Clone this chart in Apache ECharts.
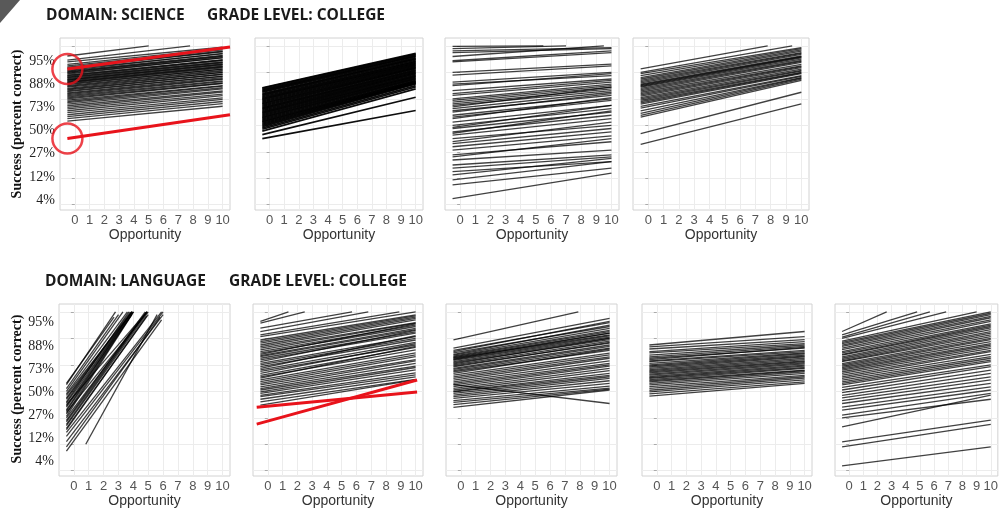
<!DOCTYPE html>
<html><head><meta charset="utf-8">
<script src="https://cdn.jsdelivr.net/npm/echarts@6/dist/echarts.min.js"></script>
<style>html,body{margin:0;padding:0;background:#fff}#c{width:1001px;height:512px}</style>
</head><body><div id="c"></div>
<script>
// ---------- tick values / labels ----------
const xTicks = [0,1,2,3,4,5,6,7,8,9,10];
const yTickValues = [-3,-2,-1,0,1,2,3];           // logit scale
const yTickLabels = ['4%','12%','27%','50%','73%','88%','95%'];
const rowTitles = [['DOMAIN: SCIENCE','GRADE LEVEL: COLLEGE'],['DOMAIN: LANGUAGE','GRADE LEVEL: COLLEGE']];
const xAxisName = 'Opportunity';
const yAxisName = 'Success (percent correct)';

// Each line: [logit at start, logit at end, (opportunity at end), (opportunity at start)]
const X_START = -0.5, X_END = 10;

const sciencePanel1 = [
 [2.62,3,5.0],[2.46,3,7.8],[2.4,2.95],[2.3,2.9],
 [2.25,2.85],[2.2,2.8],[2.16,2.78],[2.12,2.7],[2.08,2.72],[2.05,2.64],[2.02,2.62],[2.0,2.6],[1.97,2.55],[1.94,2.56],
 [1.9,2.48],[1.88,2.46],[1.85,2.45],[1.82,2.4],[1.8,2.38],[1.77,2.36],[1.74,2.32],[1.72,2.3],[1.7,2.28],[1.67,2.24],
 [1.64,2.22],[1.62,2.2],[1.6,2.17],[1.57,2.12],[1.54,2.12],[1.5,2.08],[1.47,2.05],[1.44,2.0],[1.4,2.0],[1.37,1.94],
 [1.34,1.92],[1.3,1.86],[1.27,1.85],[1.23,1.8],[1.2,1.76],[1.16,1.74],[1.12,1.68],[1.08,1.65],[1.04,1.6],[1.0,1.58],
 [0.95,1.5],[0.9,1.48],[0.86,1.42],[0.8,1.38],[0.74,1.3],[0.68,1.26],[0.62,1.18],[0.55,1.12],[0.48,1.04],[0.4,0.98],
 [0.33,0.9],[0.25,0.82],[0.16,0.72]
];
const sciencePanel2 = [
 [1.42,2.72],[1.4,2.69],[1.36,2.65],[1.32,2.62],[1.28,2.6],[1.25,2.56],[1.2,2.52],[1.16,2.5],[1.12,2.46],[1.08,2.42],
 [1.04,2.4],[1.0,2.36],[0.96,2.33],[0.92,2.3],[0.88,2.27],[0.84,2.24],[0.8,2.2],[0.76,2.17],[0.72,2.14],[0.68,2.1],
 [0.64,2.07],[0.6,2.04],[0.56,2.0],[0.52,1.97],[0.48,1.94],[0.44,1.9],[0.4,1.87],[0.36,1.84],[0.32,1.8],[0.28,1.77],
 [0.24,1.74],[0.2,1.7],[0.16,1.67],[0.12,1.64],[0.08,1.62],[0.04,1.6],[0.0,1.58],[-0.05,1.56],[-0.1,1.5],[-0.15,1.45],
 [-0.22,1.38],[-0.35,1.06],[-0.5,0.56]
];
const sciencePanel3 = [
 [2.98,3,5.5],[2.9,3,7],[2.81,2.94],[2.75,2.9],[2.6,3,9.5],[2.44,2.81],[2.4,2.75],[2.0,2.31],[1.9,2.25],[1.63,2.0],
 [1.56,1.88],[1.5,1.95],[1.31,1.75],[1.2,1.7],[1.13,1.63],[1.0,1.56],[0.94,1.5],[0.88,1.44],[0.81,1.38],[0.75,1.31],
 [0.7,1.44],[0.63,1.25],[0.55,1.13],[0.5,1.2],[0.38,1.0],[0.31,0.94],[0.25,1.05],[0.12,0.75],[0.0,0.63],[-0.08,0.75],
 [-0.12,0.5],[-0.25,0.38],[-0.3,0.55],[-0.37,0.25],[-0.5,0.0],[-0.62,0.12],[-0.69,-0.12],[-0.81,-0.25],[-0.94,-0.4],
 [-1.12,-0.62],[-1.19,-0.5],[-1.31,-0.94],[-1.5,-1.12],[-1.62,-1.19],[-1.75,-1.37],[-1.87,-1.25],[-2.06,-1.37],
 [-2.25,-1.62],[-2.77,-1.81]
];
const sciencePanel4 = [
 [2.13,3,7.8],[2.0,3,9.4],[1.95,2.94],[1.88,2.9],[1.8,2.85],[1.75,2.8],[1.7,2.75],[1.65,2.72],[1.6,2.68],[1.56,2.62],
 [1.53,2.6],[1.5,2.58],[1.47,2.55],[1.44,2.5],[1.4,2.45],[1.35,2.42],[1.3,2.38],[1.25,2.3],[1.2,2.25],[1.15,2.22],
 [1.1,2.18],[1.05,2.12],[1.0,2.08],[0.95,2.05],[0.9,2.0],[0.85,1.98],[0.8,1.95],[0.72,1.88],[0.65,1.85],[0.55,1.8],
 [0.45,1.78],[0.38,1.75],[0.31,1.7],[-0.31,1.25],[-0.72,0.81]
];
const languagePanel1 = [
 [0.3,2.8,2.7],[0.25,3,2.8],[0.1,2.9,3.0],[0.0,3,3.3],[-0.1,3,3.6],[-0.15,3,3.9],[-0.25,3,3.8],[-0.3,3,3.9],
 [-0.4,3,3.7],[-0.45,3,3.9],[-0.55,3,3.9],[-0.6,3,4.0],[-0.7,3,3.9],[-0.75,3,4.0],[-0.85,3,4.0],[-0.95,2.9,3.9],
 [-1.0,3,4.9],[-1.1,3,4.8],[-1.15,3,4.9],[-0.5,3,4.9],[-0.8,3,4.95],[-1.25,3,4.9],[-1.3,3,5.0],[-1.4,2.9,5.0],
 [-1.45,2.85,4.9],[-1.55,3,5.9],[-1.7,3,6.0],[-1.9,2.9,6.0],[-2.1,2.8,5.8],[-2.26,2.7,5.9],[-2.0,2.9,5.6,0.8]
];
const languagePanel2 = [
 [2.64,3,1.4],[2.58,3,2.5],[2.39,3,5.7],[2.26,3,6.8],[2.13,3,8.9],[2.07,3,10],
 [1.94,2.89],[1.88,2.85],[1.82,2.8],[1.75,2.76],[1.69,2.7],[1.63,2.6],[1.57,2.58],[1.5,2.5],[1.44,2.45],[1.4,2.55],
 [1.35,2.38],[1.31,2.33],[1.25,2.25],[1.19,2.2],[1.12,2.3],[1.06,2.07],[1.0,2.0],[0.93,1.94],[0.87,2.1],[0.81,1.85],
 [0.75,1.75],[0.68,1.8],[0.6,1.66],[0.55,1.57],[0.5,1.7],[0.43,1.45],[0.37,1.38],[0.3,1.31],[0.24,1.2],[0.17,1.15],
 [0.1,1.06],[0.05,0.95],[-0.02,0.9],[-0.08,0.81],[-0.15,0.7],[-0.2,0.62],[-0.3,0.55],[-0.4,0.45],[-0.52,0.43]
];
const languagePanel3 = [
 [1.94,3,7.9],
 [1.63,2.76],[1.55,2.6],[1.5,2.64],[1.45,2.45],[1.4,2.5],[1.37,2.38],[1.33,2.3],[1.3,2.26],[1.27,2.2],[1.25,2.13],
 [1.22,2.2],[1.2,2.1],[1.17,2.05],[1.12,2.01],[1.08,1.95],[1.04,2.0],[1.0,1.9],[0.96,1.82],[0.92,1.85],[0.87,1.75],
 [0.83,1.7],[0.78,1.63],[0.74,1.55],[0.68,1.6],[0.61,1.44],[0.55,1.38],[0.49,1.3],[0.42,1.25],[0.36,1.15],[0.3,1.06],
 [0.24,1.0],[0.18,0.95],[0.11,0.87],[0.05,0.78],[0.0,0.68],[-0.02,0.6],[-0.08,0.55],[-0.14,0.49],[-0.2,0.4],
 [-0.27,0.3],[-0.35,0.2],[-0.42,0.12],[-0.5,0.08],[-0.61,0.05],[0.25,-0.46]
];
const languagePanel4 = [
 [1.75,2.26],[1.68,2.07],[1.6,1.95],[1.5,1.88],[1.45,1.8],[1.37,1.75],[1.3,1.7],[1.25,1.63],[1.2,1.66],[1.15,1.55],
 [1.12,1.5],[1.06,1.45],[1.0,1.42],[0.96,1.37],[0.92,1.33],[0.87,1.3],[0.82,1.25],[0.78,1.2],[0.74,1.15],[0.7,1.12],
 [0.65,1.08],[0.61,1.04],[0.56,0.99],[0.52,0.95],[0.49,0.9],[0.44,0.87],[0.4,0.8],[0.36,0.78],[0.3,0.74],[0.24,0.68],
 [0.18,0.6],[0.11,0.55],[0.04,0.5],[-0.02,0.43],[-0.1,0.36],[-0.18,0.3]
];
const languagePanel5 = [
 [2.26,3,2.65],[2.13,3,4.8],[2.05,3,5.7],[2.0,3,6.85],[1.9,3,9.0],[1.85,3,10],[1.8,2.95],[1.75,2.9],[1.7,2.83],
 [1.63,2.78],[1.58,2.7],[1.5,2.64],[1.45,2.55],[1.4,2.5],[1.37,2.45],[1.3,2.4],[1.25,2.33],[1.2,2.26],[1.15,2.2],
 [1.12,2.13],[1.05,2.07],[1.0,2.0],[0.95,1.95],[0.9,1.88],[0.85,1.8],[0.8,1.75],[0.74,1.69],[0.68,1.62],[0.61,1.55],
 [0.55,1.5],[0.49,1.4],[0.42,1.31],[0.36,1.25],[0.3,1.18],[0.24,1.12],[0.15,1.0],[0.05,0.93],[-0.05,0.8],[-0.15,0.68],
 [-0.25,0.55],[-0.35,0.43],[-0.46,0.3],[-0.6,0.17],[-0.71,0.05],[-0.9,-0.08],[-1.0,-0.3],[-1.34,-0.14],
 [-1.91,-1.09],[-2.1,-1.25],[-2.82,-2.1]
];
// red annotations: [x0, y0, x1, y1]
const redLinesScience = [[-0.5,2.13,10.5,2.96],[-0.5,-0.5,10.5,0.4]];
const redCirclesScience = [[-0.5,2.13],[-0.5,-0.5]];
const redLinesLanguage = [[-0.75,-0.6,10.1,-0.03],[-0.75,-1.24,10.1,0.43]];

const panels = [sciencePanel1, sciencePanel2, sciencePanel3, sciencePanel4,
  languagePanel1, languagePanel2, languagePanel3, languagePanel4, languagePanel5];

// ---------- layout (pixels) ----------
const layout = [
 {left:60, top:38, width:170}, {left:255, top:38, width:168}, {left:445, top:38, width:174}, {left:633, top:38, width:176},
 {left:59, top:304, width:171}, {left:253, top:304, width:170}, {left:446, top:304, width:171}, {left:642, top:304, width:170}, {left:835, top:304, width:172}
];
const PANEL_H = 172;
const Y_MIN = -3.2, Y_MAX = 3.3, X_MIN = -1, X_MAX = 10.5;

const grids = layout.map(l => ({left:l.left, top:l.top, width:l.width, height:PANEL_H, show:true,
  borderColor:'#d2d2d2', borderWidth:1, backgroundColor:'#fff', containLabel:false}));

const xAxes = layout.map((l,i) => ({
  type:'value', gridIndex:i, min:X_MIN, max:X_MAX,
  axisLine:{show:false}, axisTick:{show:false, customValues:xTicks},
  axisLabel:{customValues:xTicks, margin:4, fontSize:13, color:'#555', fontFamily:'Liberation Sans'},
  splitLine:{show:true, lineStyle:{color:'#ececec', width:1}},
  name:xAxisName, nameLocation:'middle', nameGap:17,
  nameTextStyle:{fontSize:14, color:'#333', fontFamily:'Liberation Sans'}
}));
const yAxes = layout.map((l,i) => ({
  type:'value', gridIndex:i, min:Y_MIN, max:Y_MAX,
  axisLine:{show:false},
  axisTick:{show:true, length:3, customValues:yTickValues, lineStyle:{color:'#aaa'}},
  axisLabel:{show:false},
  splitLine:{show:true, lineStyle:{color:'#ececec', width:1}}
}));
// percent-label axes of the first panel in each row
const labelAxis = (gi, mn, mx) => ({
  type:'value', gridIndex:gi, min:mn, max:mx, position:'left',
  axisLine:{show:false}, axisTick:{show:false}, splitLine:{show:false},
  axisLabel:{customValues:yTickValues, margin:5, fontSize:14, color:'#222', fontFamily:'Liberation Serif',
    formatter: v => yTickLabels[yTickValues.indexOf(Math.round(v))]}
});
yAxes.push(labelAxis(0, -3.43, 3.99));
yAxes.push(labelAxis(4, -3.64, 3.815));

const toSegs = list => list.map(l => ({coords:[[l.length>3?l[3]:X_START, l[0]],[l.length>2?l[2]:X_END, l[1]]]}));

const series = panels.map((p,i) => ({
  type:'lines', coordinateSystem:'cartesian2d', xAxisIndex:i, yAxisIndex:i, silent:true,
  data: toSegs(p), z:2,
  lineStyle:{color:'#000', width: i===1 ? 1.7 : 1.3, opacity: i===1 ? 0.95 : 0.75, curveness:0}
}));
const RED = '#e8131b';
series.push({type:'lines', coordinateSystem:'cartesian2d', xAxisIndex:0, yAxisIndex:0, silent:true, z:5,
  data: redLinesScience.map(r => ({coords:[[r[0],r[1]],[r[2],r[3]]]})), lineStyle:{color:RED, width:3, opacity:1}});
series.push({type:'scatter', xAxisIndex:0, yAxisIndex:0, silent:true, z:5, symbol:'circle', symbolSize:30,
  data: redCirclesScience, itemStyle:{color:'rgba(0,0,0,0)', borderColor:RED, borderWidth:2.5}});
series.push({type:'lines', coordinateSystem:'cartesian2d', xAxisIndex:5, yAxisIndex:5, silent:true, z:5,
  data: redLinesLanguage.map(r => ({coords:[[r[0],r[1]],[r[2],r[3]]]})), lineStyle:{color:RED, width:3, opacity:1}});

const titleFont = {fontSize:15.5, fontWeight:'bold', fontFamily:'Open Sans', fill:'#1a1a1a', textVerticalAlign:'middle'};
const yNameFont = {fontSize:14, fontWeight:'bold', fontFamily:'Liberation Serif', fill:'#111', textAlign:'center', textVerticalAlign:'middle'};
const graphic = [
  {type:'polygon', shape:{points:[[0,0],[20,0],[0,23]]}, style:{fill:'#595959'}},
  {type:'text', x:46, y:16, style:Object.assign({text:rowTitles[0][0]}, titleFont)},
  {type:'text', x:207, y:16, style:Object.assign({text:rowTitles[0][1]}, titleFont)},
  {type:'text', x:45, y:282, style:Object.assign({text:rowTitles[1][0]}, titleFont)},
  {type:'text', x:229, y:282, style:Object.assign({text:rowTitles[1][1]}, titleFont)},
  {type:'text', x:17, y:124, rotation:Math.PI/2, style:Object.assign({text:yAxisName}, yNameFont)},
  {type:'text', x:17, y:389, rotation:Math.PI/2, style:Object.assign({text:yAxisName}, yNameFont)}
];

const chart = echarts.init(document.getElementById('c'), null, {renderer:'canvas'});
chart.setOption({animation:false, backgroundColor:'#fff', grid:grids, xAxis:xAxes, yAxis:yAxes, series, graphic});
</script>
</body></html>
